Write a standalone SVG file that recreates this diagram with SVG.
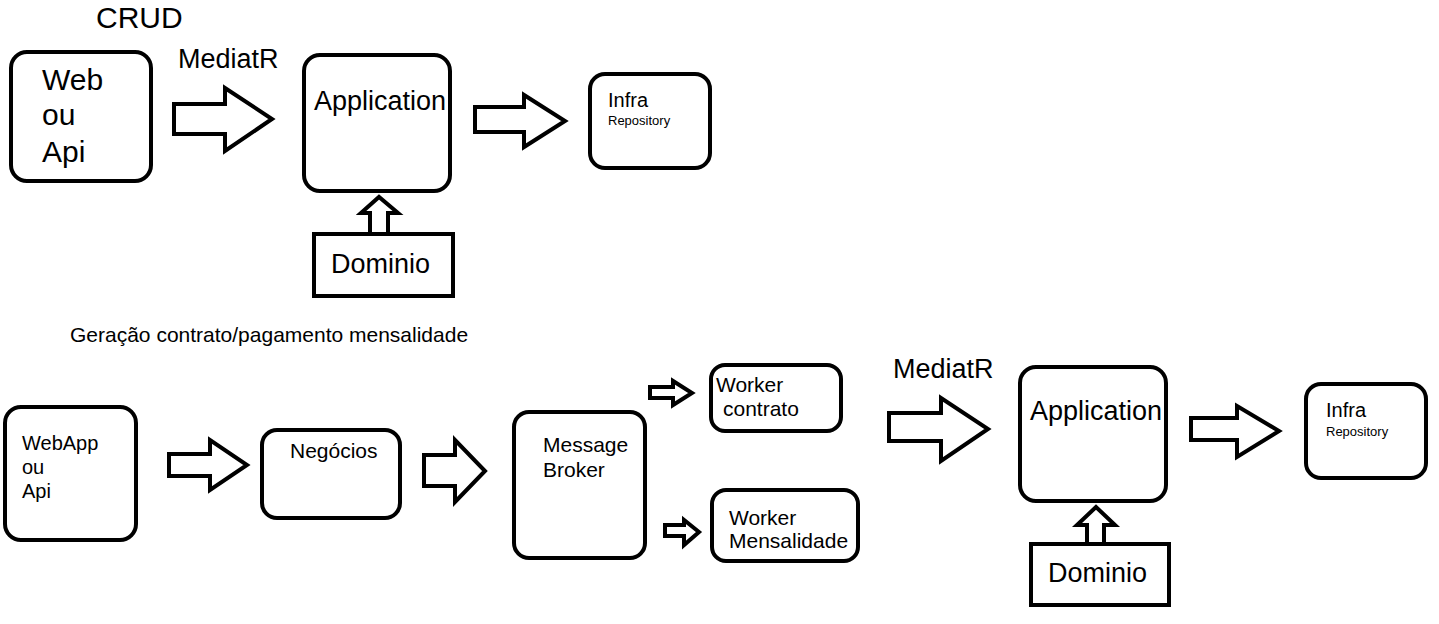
<svg xmlns="http://www.w3.org/2000/svg" width="1439" height="624" viewBox="0 0 1439 624">
<style>
.box{fill:#fff;stroke:#000;stroke-width:4}
.arr{fill:#fff;stroke:#000;stroke-width:4;stroke-linejoin:miter}
text{font-family:"Liberation Sans",Arial,sans-serif;fill:#000}
</style>
<rect width="1439" height="624" fill="#fff"/>
<text x="96" y="28" font-size="30">CRUD</text>
<text x="178" y="68" font-size="27">MediatR</text>
<text x="70" y="342" font-size="21">Geração contrato/pagamento mensalidade</text>
<text x="893" y="378" font-size="27">MediatR</text>
<g id="connectors">
<path class="arr" d="M174,104 H225 V88 L272,119 L225,151 V134 H174 Z"/>
<path class="arr" d="M475,107 H524 V95 L565,121 L524,147 V132 H475 Z"/>
<path class="arr" d="M370,234 V213 H361 L379,197 L398,213 H388 V234 Z"/>
<path class="arr" d="M169,454 H210 V440 L247,465 L210,490 V476 H169 Z"/>
<path class="arr" d="M424,455 H455 V440 L485,471 L455,502 V486 H424 Z"/>
<path class="arr" d="M650,387 H673 V381 L692,393 L673,405 V398 H650 Z"/>
<path class="arr" d="M665,525 H684 V520 L699,532 L684,545 V536 H665 Z"/>
<path class="arr" d="M889,413 H941 V398 L988,429 L941,461 V441 H889 Z"/>
<path class="arr" d="M1191,418 H1237 V406 L1279,431 L1237,457 V440 H1191 Z"/>
<path class="arr" d="M1087,544 V525 H1077 L1096,507 L1115,525 H1104 V544 Z"/>
</g>
<g id="web">
<rect class="box" x="11" y="52" width="140" height="129" rx="16"/>
<text x="42" y="90" font-size="30">Web</text>
<text x="42" y="125" font-size="30">ou</text>
<text x="42" y="162" font-size="30">Api</text>
</g>
<g id="application1">
<rect class="box" x="304" y="55" width="146" height="136" rx="16"/>
<text x="314" y="110" font-size="27">Application</text>
</g>
<g id="dominio1">
<rect class="box" x="314" y="234" width="139" height="62"/>
<text x="331" y="273" font-size="27">Dominio</text>
</g>
<g id="infra1">
<rect class="box" x="590" y="74" width="120" height="94" rx="15"/>
<text x="608" y="107" font-size="20">Infra</text>
<text x="608" y="125" font-size="13">Repository</text>
</g>
<g id="webapp">
<rect class="box" x="5" y="407" width="131" height="133" rx="16"/>
<text x="22" y="450" font-size="20">WebApp</text>
<text x="22" y="474" font-size="20">ou</text>
<text x="22" y="498" font-size="20">Api</text>
</g>
<g id="negocios">
<rect class="box" x="262" y="430" width="138" height="88" rx="15"/>
<text x="290" y="458" font-size="21">Negócios</text>
</g>
<g id="broker">
<rect class="box" x="514" y="412" width="131" height="146" rx="15"/>
<text x="543" y="452" font-size="21">Message</text>
<text x="543" y="477" font-size="21">Broker</text>
</g>
<g id="workercontrato">
<rect class="box" x="711" y="365" width="130" height="66" rx="14"/>
<text x="716" y="392" font-size="21">Worker</text>
<text x="723" y="416" font-size="21">contrato</text>
</g>
<g id="workermensalidade">
<rect class="box" x="712" y="490" width="146" height="71" rx="14"/>
<text x="729" y="525" font-size="21">Worker</text>
<text x="729" y="548" font-size="21">Mensalidade</text>
</g>
<g id="application2">
<rect class="box" x="1020" y="367" width="146" height="134" rx="16"/>
<text x="1030" y="420" font-size="27">Application</text>
</g>
<g id="dominio2">
<rect class="box" x="1031" y="544" width="138" height="61"/>
<text x="1048" y="582" font-size="27">Dominio</text>
</g>
<g id="infra2">
<rect class="box" x="1306" y="384" width="120" height="94" rx="15"/>
<text x="1326" y="417" font-size="20">Infra</text>
<text x="1326" y="436" font-size="13">Repository</text>
</g>
</svg>
